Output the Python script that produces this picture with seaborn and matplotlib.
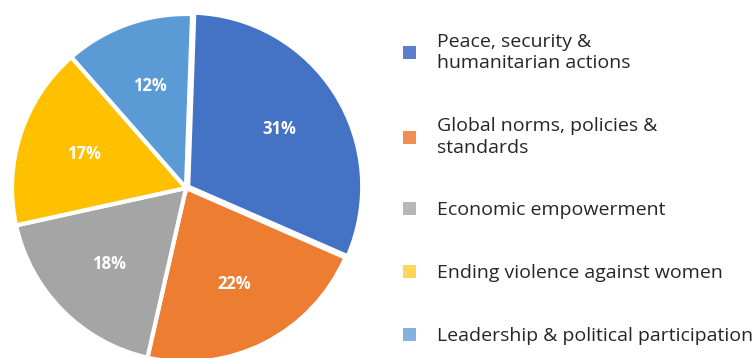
import matplotlib.pyplot as plt
import seaborn as sns
from matplotlib.patches import Patch

# Share of funding by thematic area (%)
areas = [
    "Peace, security &\nhumanitarian actions",
    "Global norms, policies &\nstandards",
    "Economic empowerment",
    "Ending violence against women",
    "Leadership & political participation",
]
shares = [31, 22, 18, 17, 12]
pie_colors = ["#4472C4", "#ED7D31", "#A5A5A5", "#FFC000", "#5B9BD5"]
legend_colors = ["#5B7FCB", "#F08F53", "#B7B7B7", "#FFD65C", "#85B1E0"]

sns.set_theme(style="white")
plt.rcParams["font.family"] = ["Open Sans", "DejaVu Sans"]

W, H = 755, 358
fig = plt.figure(figsize=(W / 100, H / 100), dpi=100)

# pie axes: centre (186, 188) px, radius 174 px
cx, cy, r = 186, 188, 174
ax = fig.add_axes([(cx - r) / W, (H - cy - r) / H, 2 * r / W, 2 * r / H])
wedges, _, autotexts = ax.pie(
    shares,
    colors=pie_colors,
    startangle=88,
    counterclock=False,
    explode=[0.015, 0, 0, 0, 0],
    autopct=lambda p: f"{p:.0f}%",
    pctdistance=0.62,
    wedgeprops={"edgecolor": "white", "linewidth": 3},
    textprops={"color": "white", "fontsize": 12, "fontweight": "bold"},
)
ax.set_xlim(-1, 1)
ax.set_ylim(-1, 1)
ax.axis("off")

handles = [Patch(facecolor=c, edgecolor="none") for c in legend_colors]
leg = fig.legend(
    handles,
    areas,
    loc="upper left",
    bbox_to_anchor=(403 / W, 1 - 33 / H),
    frameon=False,
    fontsize=14,
    handlelength=0.65,
    handleheight=0.65,
    handletextpad=1.1,
    labelspacing=2.3,
    borderaxespad=0,
    borderpad=0,
)
for t in leg.get_texts():
    t.set_color("#262626")
    t.set_linespacing(1.25)

fig.savefig("out.png", dpi=100)
